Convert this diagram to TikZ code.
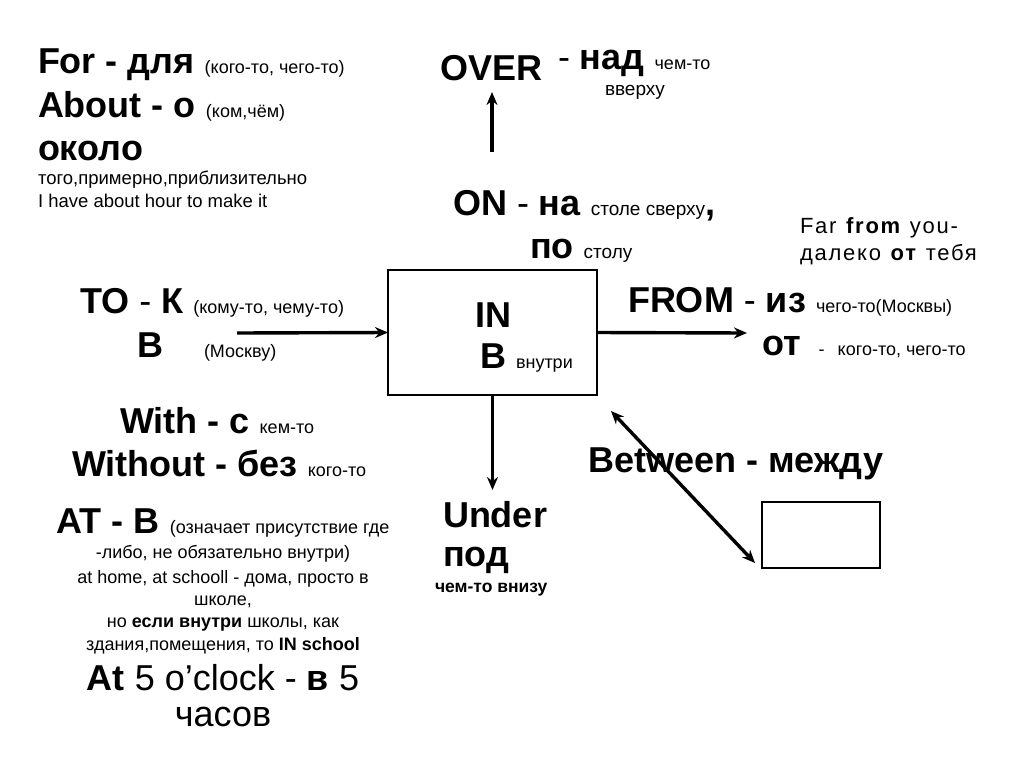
\documentclass[tikz,border=0pt]{standalone}
\usepackage{fontspec}
\setmainfont{Liberation Sans}
\newfontfamily\spacedfont[LetterSpace=8]{Liberation Sans}
\usetikzlibrary{arrows.meta}
\newcommand\Bf{\fontsize{36}{40}\selectfont\bfseries}
\newcommand\Sm{\fontsize{18}{21}\selectfont\mdseries}
\newcommand\Md{\fontsize{18}{22}\selectfont\mdseries}
\newcommand\Lg{\fontsize{36}{40}\selectfont\mdseries}
\begin{document}
\begin{tikzpicture}[x=1pt,y=-1pt,
  lbl/.style={anchor=base west,inner sep=0pt,outer sep=0pt},
  ctr/.style={anchor=base,inner sep=0pt,outer sep=0pt},
  arr/.style={line width=3.4pt,-{Stealth[length=13pt,width=11pt]}},
  dblarr/.style={line width=3.4pt,{Stealth[length=13pt,width=11pt]}-{Stealth[length=13pt,width=11pt]}},
  boxst/.style={draw,line width=2.6pt,inner sep=0pt,outer sep=0pt}]
\useasboundingbox (0,0) rectangle (1024,768);
\fill[white] (0,0) rectangle (1024,768);

% top left block
\node[lbl] (for) at (38,73) {\Bf For - для \Sm (кого-то, чего-то)};
\node[lbl] (about) at (38,117) {\Bf About - о \Sm (ком,чём)};
\node[lbl] (okolo) at (38,160) {\Bf около};
\node[lbl] (okolo2) at (38,184) {\fontsize{18.5}{21}\selectfont того,примерно,приблизительно};
\node[lbl] (ex) at (38,207) {\fontsize{18.5}{21}\selectfont I have about hour to make it};

% OVER
\node[lbl] (over) at (440,80) {\Bf OVER};
\node[lbl] (nad) at (558,70) {\Bf {\mdseries -} над \Sm чем-то};
\node[lbl] (verh) at (605,95) {\fontsize{19}{22}\selectfont вверху};

% ON
\node[lbl] (on) at (453,215) {\Bf ON {\mdseries -} на \fontsize{19}{22}\selectfont\mdseries столе сверху{\Bf,}};
\node[lbl] (po) at (530,258) {\Bf по \fontsize{19}{22}\selectfont\mdseries столу};

% IN box
\node[boxst,minimum width=209pt,minimum height=125pt] (inbox) at (492.5,332.5) {};
\node[lbl] (in) at (475,327) {\Bf IN};
\node[lbl] (vnutri) at (480,368) {\Bf В \Sm внутри};

% TO
\node[lbl] (to) at (80,313) {\Bf TO {\mdseries -} К \Sm (кому-то, чему-то)};
\node[lbl] (tov) at (137,357) {\Bf В\hspace{41pt}\Sm (Москву)};

% FAR FROM
\node[lbl] (far) at (800,233) {\fontsize{22}{25}\spacedfont Far \textbf{from} you-};
\node[lbl] (daleko) at (800,260) {\fontsize{22}{25}\spacedfont далеко \textbf{от} тебя};

% FROM
\node[lbl] (from) at (628,312) {\Bf FROM {\mdseries -} из \Sm чего-то(Москвы)};
\node[lbl] (ot) at (762,355) {\Bf от\hspace{18pt}\Sm -\hspace{13pt}кого-то, чего-то};

% UNDER
\node[lbl] (under) at (443,527) {\Bf Under};
\node[lbl] (pod) at (443,566) {\Bf под};
\node[lbl] (vnizu) at (435,592) {\fontsize{17.5}{20}\selectfont\bfseries чем-то внизу};

% BETWEEN
\node[lbl] (between) at (588,472) {\Bf Between - между};
\node[boxst,minimum width=118pt,minimum height=66pt] (sbox) at (821,535) {};

% WITH
\node[lbl] (with) at (120,433) {\Bf With - с \Sm кем-то};
\node[lbl] (without) at (72,476) {\Bf Without - без \Sm кого-то};

% AT block
\node[ctr] (at1) at (223,533) {\Bf AT - В \Md (означает присутствие где};
\node[ctr] (at2) at (223,558) {\Md -либо, не обязательно внутри)};
\node[ctr] (at3) at (223,583) {\Md at home, at schooll - дома, просто в};
\node[ctr] (at4) at (223,605) {\Md школе,};
\node[ctr] (at5) at (223,627) {\Md но \textbf{если внутри} школы, как};
\node[ctr] (at6) at (223,650) {\Md здания,помещения, то \textbf{IN school}};
\node[ctr] (at7) at (223,690) {\Lg \textbf{At} 5 o’clock - \textbf{в} 5};
\node[ctr] (at8) at (223,726) {\Lg часов};

% connectors
\coordinate (upS) at (492,152);
\coordinate (upE) at (492,92);
\draw[arr] (upS) -- (upE);
\coordinate (toS) at (237,333);
\draw[arr] (toS) -- (inbox.west);
\coordinate (fromE) at (747,333);
\draw[arr] (inbox.east) -- (fromE);
\coordinate (downE) at (492.5,490);
\draw[arr] (inbox.south) -- (downE);
\coordinate (dA) at (611,411);
\coordinate (dB) at (755,563);
\draw[dblarr] (dA) -- (dB);
\end{tikzpicture}
\end{document}
